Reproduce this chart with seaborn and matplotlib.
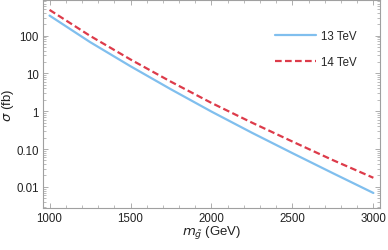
import matplotlib
matplotlib.use("Agg")
import matplotlib.pyplot as plt
import numpy as np
import pandas as pd
import seaborn as sns
from matplotlib.ticker import FixedLocator, LogLocator, NullFormatter, FixedFormatter, MultipleLocator

# gluino mass (GeV) and cross sections (fb)
mass = [1000, 1250, 1500, 1750, 2000, 2250, 2500, 2750, 3000]
sigma_13 = [339, 67.6, 15.5, 3.8, 0.98, 0.27, 0.078, 0.023, 0.0069]
sigma_14 = [479, 98.8, 23.4, 6.03, 1.66, 0.50, 0.158, 0.051, 0.0174]
series = ["13 TeV", "14 TeV"]
y_ticks = [0.01, 0.1, 1, 10, 100]
y_ticklabels = ["0.01", "0.10", "1", "10", "100"]

df = pd.DataFrame({
    "mass": mass * 2,
    "sigma": sigma_13 + sigma_14,
    "energy": [series[0]] * len(mass) + [series[1]] * len(mass),
})

sns.set_theme(style="ticks")
plt.rcParams["font.family"] = ["Liberation Sans", "DejaVu Sans"]
plt.rcParams["mathtext.fontset"] = "dejavusans"

fig = plt.figure(figsize=(3.88, 2.51), dpi=100)
ax = fig.add_axes([0.111, 0.167, 0.868, 0.829])

sns.lineplot(
    data=df, x="mass", y="sigma", hue="energy", style="energy",
    palette={"13 TeV": "#80bfee", "14 TeV": "#dd3b4a"},
    dashes={"13 TeV": "", "14 TeV": (3.0, 1.5)},
    linewidth=1.6, ax=ax,
)
ax.set_yscale("log")
ax.set_xlim(960, 3040)
ax.set_ylim(0.00275, 875)

ax.xaxis.set_major_locator(MultipleLocator(500))
ax.xaxis.set_minor_locator(MultipleLocator(100))
ax.yaxis.set_major_locator(FixedLocator(y_ticks))
ax.yaxis.set_major_formatter(FixedFormatter(y_ticklabels))
ax.yaxis.set_minor_locator(LogLocator(base=10, subs=np.arange(2, 10)))
ax.yaxis.set_minor_formatter(NullFormatter())

frame = "#a0a0a0"
for s in ax.spines.values():
    s.set_color(frame)
    s.set_linewidth(0.8)
ax.tick_params(which="both", direction="in", top=True, right=True, color=frame,
               labelsize=8.3, labelcolor="#222222", pad=3)
ax.tick_params(which="major", length=3.5, width=0.6)
ax.tick_params(which="minor", length=2, width=0.5)

ax.set_xlabel(r"$m_{\tilde{g}}$ (GeV)", fontsize=9.5, color="#222222", labelpad=0)
ax.set_ylabel(r"$\sigma$ (fb)", fontsize=9.5, color="#222222")
ax.yaxis.set_label_coords(-0.08, 0.5)

leg = ax.legend(loc="upper right", bbox_to_anchor=(0.962, 0.905), frameon=False,
                fontsize=8.3, handlelength=3.6, labelspacing=1.2, handletextpad=0.4)
for h in leg.get_lines():
    h.set_linewidth(1.6)

fig.savefig("out.png", dpi=100)
